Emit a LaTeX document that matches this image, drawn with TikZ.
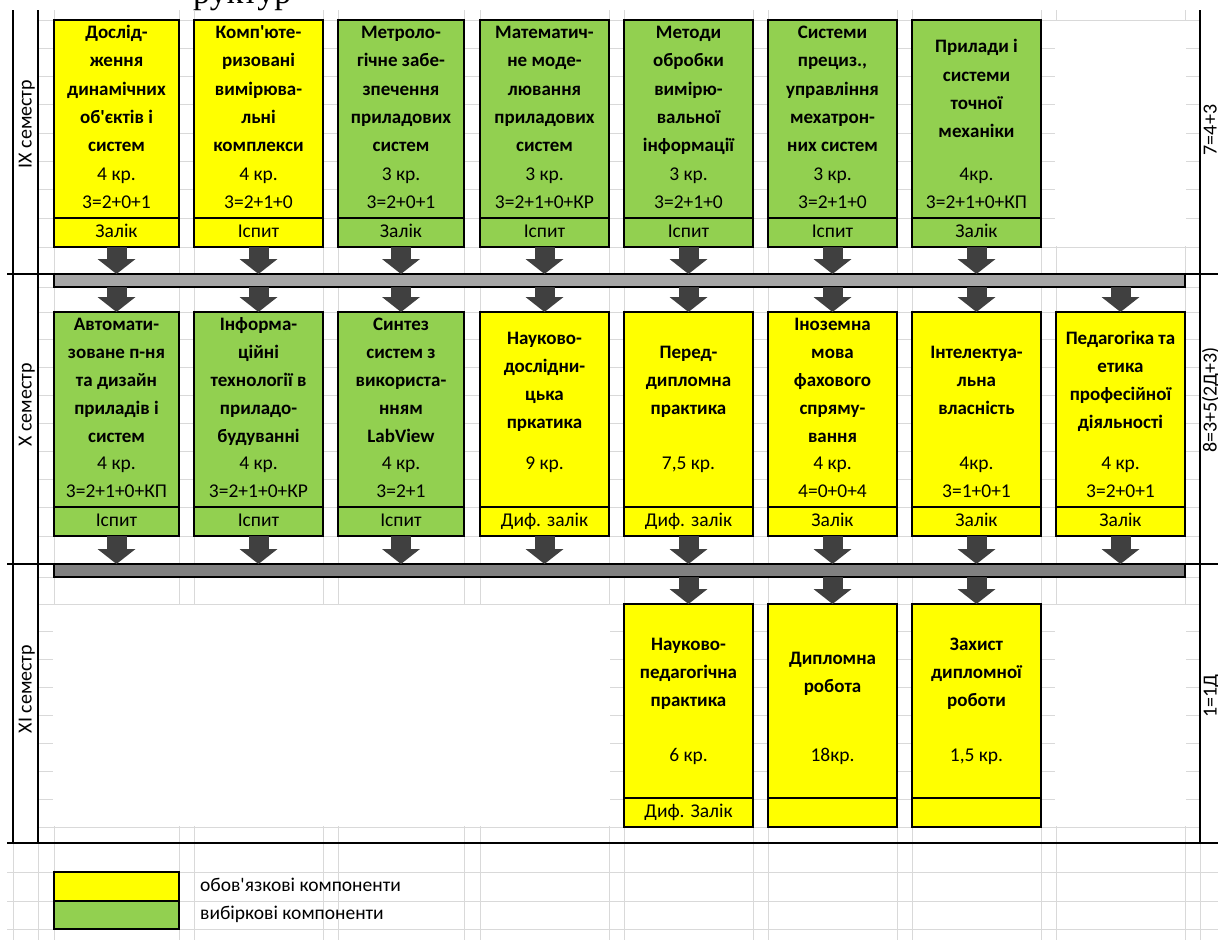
\documentclass[tikz,border=0pt]{standalone}
\usepackage{fontspec}
\setmainfont{Carlito}
\newfontfamily\serifT{Liberation Serif}
\usetikzlibrary{arrows.meta}
\definecolor{yel}{HTML}{FFFF00}
\definecolor{grn}{HTML}{92D050}
\definecolor{barA}{HTML}{A6A6A6}
\definecolor{barB}{HTML}{808080}
\definecolor{arr}{HTML}{404040}
\definecolor{gridc}{HTML}{D9D9D9}
\tikzset{
 gridl/.style={gridc, line width=1pt},
 sepl/.style={black, line width=1.3pt},
 cbox/.style={draw=black, line width=1.3pt, inner sep=0pt, outer sep=0pt, anchor=north west},
 exam/.style={draw=black, line width=1.3pt, inner sep=0pt, outer sep=0pt, anchor=south, font=\fontsize{19.5}{19.5}\selectfont, text height=13pt, text depth=4pt},
 ttlst/.style={font=\bfseries\fontsize{19}{19}\selectfont, inner sep=0pt, text height=13pt, text depth=4pt},
 regst/.style={font=\fontsize{19.5}{19.5}\selectfont, inner sep=0pt, text height=13pt, text depth=4pt},
 barst/.style={draw=black, line width=1.3pt, inner sep=0pt, outer sep=0pt, anchor=north west, minimum width=1131pt, minimum height=13pt},
 barrow/.style={arr, line width=20pt, -{Triangle[length=15pt,width=38pt,line width=0pt]}},
 semlab/.style={font=\fontsize{20}{20}\selectfont, rotate=90, anchor=base, inner sep=0pt},
}
% box: name, left, top, width, height, fill, exam text
\newcommand\cbx[7]{%
 \node[cbox, fill=#6, minimum width=#4pt, minimum height=#5pt] (#1) at (#2,#3) {};
 \node[exam, fill=#6, minimum width=#4pt, minimum height=29pt] (#1e) at (#1.south) {#7};}
% title lines: name, x, y of first, row height, list
\newcommand\ttls[5]{\foreach \t [count=\i from 0] in {#5} {\node[ttlst] (#1t\i) at (#2,{#3+\i*#4}) {\t};}}
\begin{document}
\begin{tikzpicture}[x=1pt,y=-1pt]
\useasboundingbox (0,0) rectangle (1218,940);
\fill[white] (0,0) rectangle (1218,940);
% title fragment
\begin{scope}
\clip (0,0) rectangle (1218,940);
\node[anchor=base west, inner sep=0pt, font=\serifT\fontsize{34}{34}\selectfont] (title) at (193,3) {руктур};
\end{scope}
% grid
\foreach \x in {54,179,194,323,338,464,480,609,624,753,768,897,912,1041,1056,1185}
  \draw[gridl] (\x,10) -- (\x,940);
\foreach \y in {20,48.3,76.6,104.9,133.1,161.4,189.7,218,247,287,312,339.9,367.8,395.7,423.6,451.5,479.4,507,536,577,604,631.9,659.8,687.7,715.6,743.5,771.4,799,827}
  \draw[gridl] (38,\y) -- (1200,\y);
\foreach \y in {872,901,929}
  \draw[gridl] (7,\y) -- (1218,\y);
\foreach \x in {13,38,1200}
  \draw[gridl] (\x,843) -- (\x,940);
% merged white cells
\fill[white] (1055.4,20.6) rectangle (1185.6,246.4);
\fill[white] (53.4,604.6) rectangle (609.6,826.4);
\fill[white] (1055.4,604.6) rectangle (1185.6,826.4);
% separators
\draw[sepl] (7,274) -- (1218,274);
\draw[sepl] (7,564) -- (1218,564);
\draw[sepl] (7,843) -- (1218,843);
\draw[sepl] (13,10) -- (13,843);
\draw[sepl] (38,10) -- (38,843);
\draw[sepl] (1200,10) -- (1200,843);
% bars
\node[barst, fill=barA] (bar1) at (54,274) {};
\node[barst, fill=barB] (bar2) at (54,564) {};
% ---- row IX
\cbx{b11}{54}{20}{125}{227}{yel}{Залік}
\cbx{b12}{194}{20}{129}{227}{yel}{Іспит}
\cbx{b13}{338}{20}{126}{227}{grn}{Залік}
\cbx{b14}{480}{20}{129}{227}{grn}{Іспит}
\cbx{b15}{624}{20}{129}{227}{grn}{Іспит}
\cbx{b16}{768}{20}{129}{227}{grn}{Іспит}
\cbx{b17}{912}{20}{129}{227}{grn}{Залік}
\ttls{b11}{116.5}{34.15}{28.3}{Дослід-,ження,динамічних,об\textquotesingle єктів і,систем}
\ttls{b12}{258.5}{34.15}{28.3}{Комп\textquotesingle юте-,ризовані,вимірюва-,льні,комплекси}
\ttls{b13}{401}{34.15}{28.3}{Метроло-,гічне забе-,зпечення,приладових,систем}
\ttls{b14}{544.5}{34.15}{28.3}{Математич-,не моде-,лювання,приладових,систем}
\ttls{b15}{688.5}{34.15}{28.3}{Методи,обробки,вимірю-,вальної,інформації}
\ttls{b16}{832.5}{34.15}{28.3}{Системи,{прециз.,},управління,мехатрон-,них систем}
\ttls{b17}{976.5}{48.3}{28.3}{Прилади і,системи,точної,механіки}
\node[regst] (b11c) at (116.5,175.65) {4 кр.};
\node[regst] (b11f) at (116.5,203.95) {3=2+0+1};
\node[regst] (b12c) at (258.5,175.65) {4 кр.};
\node[regst] (b12f) at (258.5,203.95) {3=2+1+0};
\node[regst] (b13c) at (401,175.65) {3 кр.};
\node[regst] (b13f) at (401,203.95) {3=2+0+1};
\node[regst] (b14c) at (544.5,175.65) {3 кр.};
\node[regst] (b14f) at (544.5,203.95) {3=2+1+0+КР};
\node[regst] (b15c) at (688.5,175.65) {3 кр.};
\node[regst] (b15f) at (688.5,203.95) {3=2+1+0};
\node[regst] (b16c) at (832.5,175.65) {3 кр.};
\node[regst] (b16f) at (832.5,203.95) {3=2+1+0};
\node[regst] (b17c) at (976.5,175.65) {4кр.};
\node[regst] (b17f) at (976.5,203.95) {3=2+1+0+КП};
% ---- row X
\cbx{b21}{54}{312}{125}{224}{grn}{Іспит}
\cbx{b22}{194}{312}{129}{224}{grn}{Іспит}
\cbx{b23}{338}{312}{126}{224}{grn}{Іспит}
\cbx{b24}{480}{312}{129}{224}{yel}{Диф. залік}
\cbx{b25}{624}{312}{129}{224}{yel}{Диф. залік}
\cbx{b26}{768}{312}{129}{224}{yel}{Залік}
\cbx{b27}{912}{312}{129}{224}{yel}{Залік}
\cbx{b28}{1056}{312}{129}{224}{yel}{Залік}
\ttls{b21}{116.5}{325.95}{27.9}{Автомати-,зоване п-ня,та дизайн,приладів і,систем}
\ttls{b22}{258.5}{325.95}{27.9}{Інформа-,ційні,технології в,приладо-,будуванні}
\ttls{b23}{401}{325.95}{27.9}{Синтез,систем з,використа-,нням,LabView}
\ttls{b24}{544.5}{339.9}{27.9}{Науково-,дослідни-,цька,пркатика}
\ttls{b25}{688.5}{353.85}{27.9}{Перед-,дипломна,практика}
\ttls{b26}{832.5}{325.95}{27.9}{Іноземна,мова,фахового,спряму-,вання}
\ttls{b27}{976.5}{353.85}{27.9}{Інтелектуа-,льна,власність}
\ttls{b28}{1120.5}{339.9}{27.9}{Педагогіка та,етика,професійної,діяльності}
\node[regst] (b21c) at (116.5,465.45) {4 кр.};
\node[regst] (b21f) at (116.5,493.35) {3=2+1+0+КП};
\node[regst] (b22c) at (258.5,465.45) {4 кр.};
\node[regst] (b22f) at (258.5,493.35) {3=2+1+0+КР};
\node[regst] (b23c) at (401,465.45) {4 кр.};
\node[regst] (b23f) at (401,493.35) {3=2+1};
\node[regst] (b24c) at (544.5,465.45) {9 кр.};
\node[regst] (b25c) at (688.5,465.45) {7,5 кр.};
\node[regst] (b26c) at (832.5,465.45) {4 кр.};
\node[regst] (b26f) at (832.5,493.35) {4=0+0+4};
\node[regst] (b27c) at (976.5,465.45) {4кр.};
\node[regst] (b27f) at (976.5,493.35) {3=1+0+1};
\node[regst] (b28c) at (1120.5,465.45) {4 кр.};
\node[regst] (b28f) at (1120.5,493.35) {3=2+0+1};
% ---- row XI
\cbx{b35}{624}{604}{129}{223}{yel}{Диф. Залік}
\cbx{b36}{768}{604}{129}{223}{yel}{}
\cbx{b37}{912}{604}{129}{223}{yel}{}
\ttls{b35}{688.5}{645.85}{27.9}{Науково-,педагогічна,практика}
\ttls{b36}{832.5}{659.8}{27.9}{Дипломна,робота}
\ttls{b37}{976.5}{645.85}{27.9}{Захист,дипломної,роботи}
\node[regst] (b35c) at (688.5,757.45) {6 кр.};
\node[regst] (b36c) at (832.5,757.45) {18кр.};
\node[regst] (b37c) at (976.5,757.45) {1,5 кр.};
% ---- arrows
\foreach \i in {1,...,7} \draw[barrow] (b1\i.south) -- (b1\i.south |- bar1.north);
\foreach \i in {1,...,8} \draw[barrow] (b2\i.north |- bar1.south) -- (b2\i.north);
\foreach \i in {1,...,8} \draw[barrow] (b2\i.south) -- (b2\i.south |- bar2.north);
\foreach \i in {5,6,7} \draw[barrow] (b3\i.north |- bar2.south) -- (b3\i.north);
% ---- semester labels
\node[semlab] (s9) at (31.5,124) {IX семестр};
\node[semlab] (s10) at (31.5,405) {X семестр};
\node[semlab] (s11) at (31.5,689) {XI семестр};
\begin{scope}
\clip (0,0) rectangle (1218,940);
\node[semlab] (r9) at (1216.5,130) {7=4+3};
\node[semlab] (r10) at (1216.5,400) {8=3+5(2Д+3)};
\node[semlab] (r11) at (1216.5,696) {1=1Д};
\end{scope}
% ---- legend
\node[cbox, fill=yel, minimum width=125pt, minimum height=29pt] (ly) at (54,872) {};
\node[cbox, fill=grn, minimum width=125pt, minimum height=28pt] (lg) at (54,901) {};
\node[regst, anchor=west] (lyt) at (200,887) {обов\textquotesingle язкові компоненти};
\node[regst, anchor=west] (lgt) at (200,915) {вибіркові компоненти};
\end{tikzpicture}
\end{document}
